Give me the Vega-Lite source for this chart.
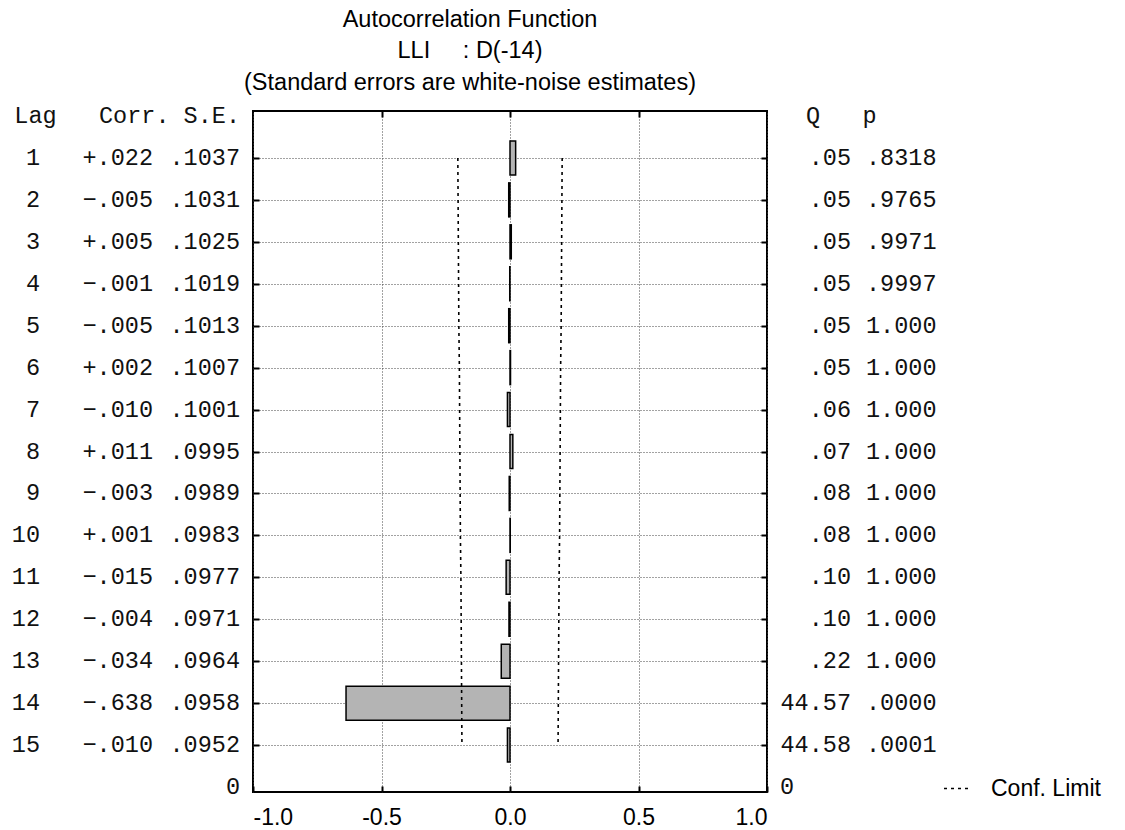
{
  "$schema": "https://vega.github.io/schema/vega-lite/v6.json",
  "width": 514,
  "height": 681,
  "autosize": {"type": "none"},
  "padding": {"left": 253, "top": 111, "right": 358, "bottom": 38},
  "background": "white",
  "title": {
    "text": ["Autocorrelation Function", "LLI\u00a0\u00a0\u00a0\u00a0\u00a0: D(-14)", "(Standard errors are white-noise estimates)"],
    "font": "Liberation Sans",
    "fontSize": 23.5,
    "fontWeight": "normal",
    "lineHeight": 31.5,
    "color": "black",
    "anchor": "middle",
    "dx": -40,
    "offset": 10
  },
  "config": {
    "view": {"stroke": "black", "strokeWidth": 2},
    "axis": {"domain": false, "title": null, "tickColor": "black", "tickWidth": 2, "gridColor": "#444444", "gridDash": [1, 2], "gridWidth": 1}
  },
  "datasets": {
    "acf": [
      {"lag": 1, "corr": 0.022, "corrText": "+.022", "se": ".1037", "q": ".05", "p": ".8318", "lo": -0.203, "hi": 0.203},
      {"lag": 2, "corr": -0.005, "corrText": "\u2212.005", "se": ".1031", "q": ".05", "p": ".9765", "lo": -0.202, "hi": 0.202},
      {"lag": 3, "corr": 0.005, "corrText": "+.005", "se": ".1025", "q": ".05", "p": ".9971", "lo": -0.201, "hi": 0.201},
      {"lag": 4, "corr": -0.001, "corrText": "\u2212.001", "se": ".1019", "q": ".05", "p": ".9997", "lo": -0.200, "hi": 0.200},
      {"lag": 5, "corr": -0.005, "corrText": "\u2212.005", "se": ".1013", "q": ".05", "p": "1.000", "lo": -0.199, "hi": 0.199},
      {"lag": 6, "corr": 0.002, "corrText": "+.002", "se": ".1007", "q": ".05", "p": "1.000", "lo": -0.197, "hi": 0.197},
      {"lag": 7, "corr": -0.010, "corrText": "\u2212.010", "se": ".1001", "q": ".06", "p": "1.000", "lo": -0.196, "hi": 0.196},
      {"lag": 8, "corr": 0.011, "corrText": "+.011", "se": ".0995", "q": ".07", "p": "1.000", "lo": -0.195, "hi": 0.195},
      {"lag": 9, "corr": -0.003, "corrText": "\u2212.003", "se": ".0989", "q": ".08", "p": "1.000", "lo": -0.194, "hi": 0.194},
      {"lag": 10, "corr": 0.001, "corrText": "+.001", "se": ".0983", "q": ".08", "p": "1.000", "lo": -0.193, "hi": 0.193},
      {"lag": 11, "corr": -0.015, "corrText": "\u2212.015", "se": ".0977", "q": ".10", "p": "1.000", "lo": -0.191, "hi": 0.191},
      {"lag": 12, "corr": -0.004, "corrText": "\u2212.004", "se": ".0971", "q": ".10", "p": "1.000", "lo": -0.190, "hi": 0.190},
      {"lag": 13, "corr": -0.034, "corrText": "\u2212.034", "se": ".0964", "q": ".22", "p": "1.000", "lo": -0.189, "hi": 0.189},
      {"lag": 14, "corr": -0.638, "corrText": "\u2212.638", "se": ".0958", "q": "44.57", "p": ".0000", "lo": -0.188, "hi": 0.188},
      {"lag": 15, "corr": -0.010, "corrText": "\u2212.010", "se": ".0952", "q": "44.58", "p": ".0001", "lo": -0.187, "hi": 0.187}
    ],
    "heads": [
      {"lag": 0, "left": "Lag\u00a0\u00a0\u00a0Corr.\u00a0S.E.", "right": "Q\u00a0\u00a0\u00a0p"},
      {"lag": 16, "left": "0", "right": "0"}
    ]
  },
  "data": {"name": "acf"},
  "layer": [
    {
      "mark": {"type": "bar", "orient": "horizontal", "fill": "#b4b4b4", "stroke": "black", "strokeWidth": 1.5, "height": 34},
      "encoding": {
        "x": {
          "field": "corr", "type": "quantitative",
          "scale": {"domain": [-1, 1], "nice": false, "zero": false},
          "axis": {
            "orient": "bottom", "values": [-1, -0.5, 0, 0.5, 1], "grid": true,
            "tickSize": -6, "labelPadding": 20,
            "labelFont": "Liberation Sans", "labelFontSize": 23, "labelColor": "black",
            "labelExpr": "datum.value < 0 ? '-' + format(-datum.value, '.1f') : format(datum.value, '.1f')"
          }
        },
        "x2": {"datum": 0},
        "y": {
          "field": "lag", "type": "quantitative",
          "scale": {"domain": [0, 16], "reverse": true, "nice": false, "zero": false},
          "axis": {"orient": "left", "values": [1, 2, 3, 4, 5, 6, 7, 8, 9, 10, 11, 12, 13, 14, 15], "grid": true, "labels": false, "tickSize": -6}
        }
      }
    },
    {
      "mark": {"type": "line", "color": "black", "strokeWidth": 1.6},
      "encoding": {
        "x": {"field": "lo", "type": "quantitative", "axis": {"orient": "top", "values": [-0.5, 0, 0.5], "grid": false, "labels": false, "tickSize": -6}},
        "y": {"field": "lag", "type": "quantitative", "axis": {"orient": "right", "values": [1, 2, 3, 4, 5, 6, 7, 8, 9, 10, 11, 12, 13, 14, 15], "grid": false, "labels": false, "tickSize": -6}},
        "order": {"field": "lag"},
        "strokeDash": {
          "datum": "Conf. Limit",
          "scale": {"range": [[3, 4]]},
          "legend": {
            "orient": "none", "legendX": 690, "legendY": 664, "title": null,
            "symbolType": "stroke", "symbolSize": 625, "symbolStrokeWidth": 1.5, "symbolStrokeColor": "black",
            "labelFont": "Liberation Sans", "labelFontSize": 23, "labelColor": "black", "labelOffset": 21
          }
        }
      }
    },
    {
      "mark": {"type": "line", "color": "black", "strokeWidth": 1.6},
      "encoding": {
        "x": {"field": "hi", "type": "quantitative", "axis": null},
        "y": {"field": "lag", "type": "quantitative", "axis": null},
        "order": {"field": "lag"},
        "strokeDash": {"datum": "Conf. Limit"}
      }
    },
    {
      "mark": {"type": "text", "font": "Liberation Mono", "fontSize": 23.5, "align": "right", "baseline": "middle", "dx": -213, "color": "#111111"},
      "encoding": {
        "x": {"datum": -1, "type": "quantitative", "axis": null},
        "y": {"field": "lag", "type": "quantitative", "axis": null},
        "text": {"field": "lag", "type": "quantitative"}
      }
    },
    {
      "mark": {"type": "text", "font": "Liberation Mono", "fontSize": 23.5, "align": "left", "baseline": "middle", "dx": -170.5, "color": "#111111"},
      "encoding": {
        "x": {"datum": -1, "type": "quantitative", "axis": null},
        "y": {"field": "lag", "type": "quantitative", "axis": null},
        "text": {"field": "corrText"}
      }
    },
    {
      "mark": {"type": "text", "font": "Liberation Mono", "fontSize": 23.5, "align": "right", "baseline": "middle", "dx": -13, "color": "#111111"},
      "encoding": {
        "x": {"datum": -1, "type": "quantitative", "axis": null},
        "y": {"field": "lag", "type": "quantitative", "axis": null},
        "text": {"field": "se"}
      }
    },
    {
      "mark": {"type": "text", "font": "Liberation Mono", "fontSize": 23.5, "align": "right", "baseline": "middle", "dx": 84, "color": "#111111"},
      "encoding": {
        "x": {"datum": 1, "type": "quantitative", "axis": null},
        "y": {"field": "lag", "type": "quantitative", "axis": null},
        "text": {"field": "q"}
      }
    },
    {
      "mark": {"type": "text", "font": "Liberation Mono", "fontSize": 23.5, "align": "left", "baseline": "middle", "dx": 99, "color": "#111111"},
      "encoding": {
        "x": {"datum": 1, "type": "quantitative", "axis": null},
        "y": {"field": "lag", "type": "quantitative", "axis": null},
        "text": {"field": "p"}
      }
    },
    {
      "data": {"name": "heads"},
      "mark": {"type": "text", "font": "Liberation Mono", "fontSize": 23.5, "align": "right", "baseline": "middle", "dx": -13, "color": "#111111"},
      "encoding": {
        "x": {"datum": -1, "type": "quantitative", "axis": null},
        "y": {"field": "lag", "type": "quantitative", "axis": null},
        "text": {"field": "left"}
      }
    },
    {
      "data": {"name": "heads"},
      "transform": [{"filter": "datum.lag == 0"}],
      "mark": {"type": "text", "font": "Liberation Mono", "fontSize": 23.5, "align": "left", "baseline": "middle", "dx": 39, "color": "#111111"},
      "encoding": {
        "x": {"datum": 1, "type": "quantitative", "axis": null},
        "y": {"field": "lag", "type": "quantitative", "axis": null},
        "text": {"field": "right"}
      }
    },
    {
      "data": {"name": "heads"},
      "transform": [{"filter": "datum.lag == 16"}],
      "mark": {"type": "text", "font": "Liberation Mono", "fontSize": 23.5, "align": "left", "baseline": "middle", "dx": 13, "color": "#111111"},
      "encoding": {
        "x": {"datum": 1, "type": "quantitative", "axis": null},
        "y": {"field": "lag", "type": "quantitative", "axis": null},
        "text": {"field": "right"}
      }
    }
  ],
  "resolve": {"axis": {"x": "independent", "y": "independent"}}
}
